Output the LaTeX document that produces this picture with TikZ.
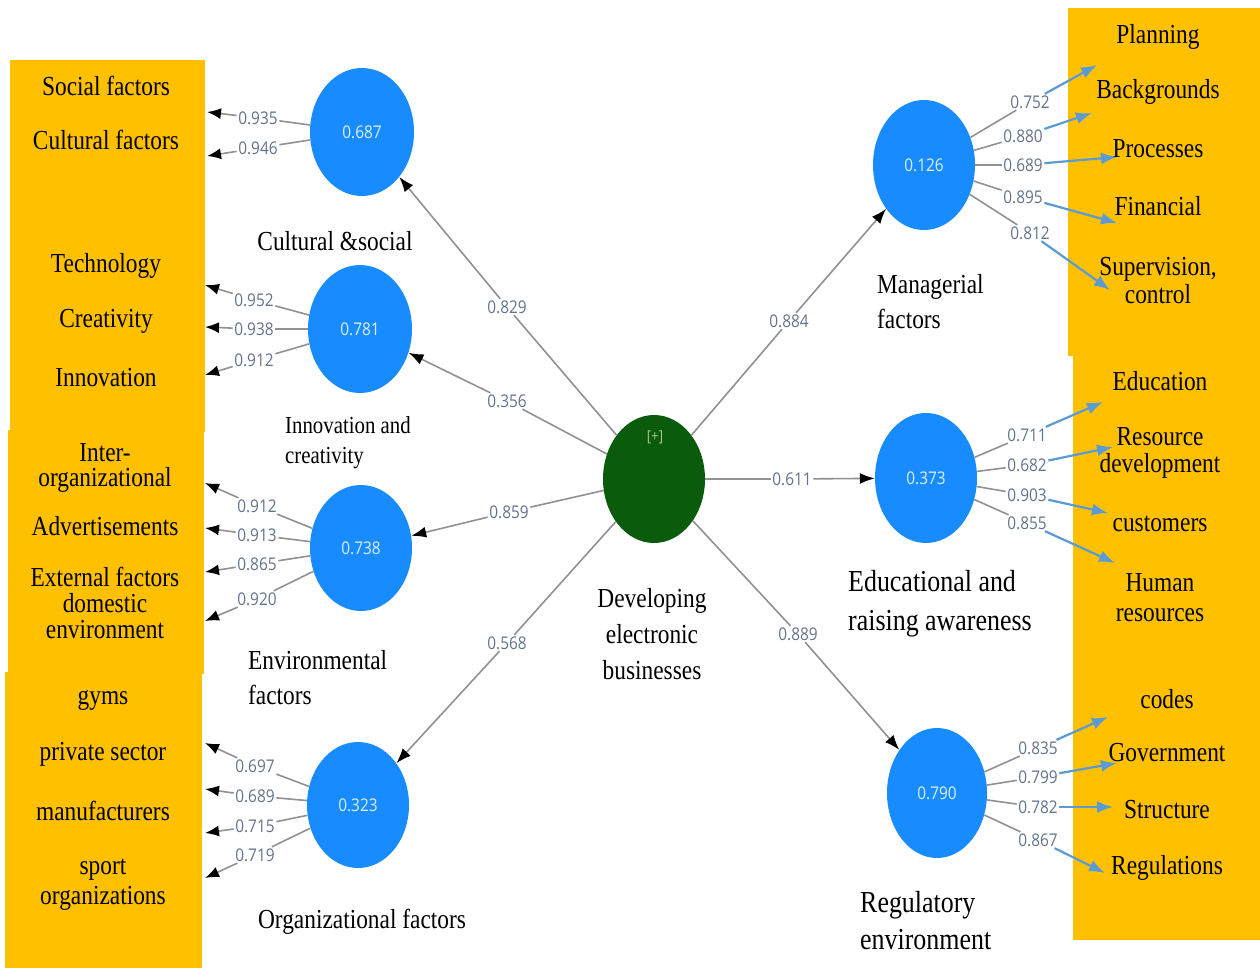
\documentclass[tikz,border=0pt]{standalone}
\usepackage{fontspec}
\setmainfont{Liberation Serif}[FakeStretch=0.85]
\newfontfamily\numfont{Open Sans}[FakeStretch=0.88]
\usetikzlibrary{shapes.geometric,arrows.meta}
\definecolor{gold}{RGB}{255,192,0}
\definecolor{cblue}{RGB}{24,140,255}
\definecolor{cgreen}{RGB}{10,92,12}
\definecolor{lgray}{RGB}{145,145,145}
\definecolor{numc}{RGB}{100,115,140}
\definecolor{arrblue}{RGB}{91,155,213}
\definecolor{plusc}{RGB}{175,195,140}
\tikzset{
  lv/.style={ellipse, fill=cblue, draw=none, inner sep=0pt, minimum width=104pt, minimum height=128pt,
    text=white!85!cblue, font=\numfont\fontsize{17.5}{20}\selectfont},
  num/.style={text=numc, font=\numfont\fontsize{17.5}{20}\selectfont, inner sep=1.5pt},
  ind/.style={font=\fontsize{27.5}{30}\selectfont, align=center, inner sep=0pt},
  cons/.style={font=\fontsize{27.5}{35}\selectfont, inner sep=0pt},
  gline/.style={draw=lgray, line width=1.6pt},
  larr/.style={gline, -{Latex[length=14pt,width=11pt,black]}},
  barr/.style={draw=arrblue, line width=2.2pt, -{Latex[length=16pt,width=12pt]}},
  carr/.style={gline, -{Latex[length=15pt,width=11pt,black]}},
}
\begin{document}
\begin{tikzpicture}[x=1pt,y=-1pt]
\useasboundingbox (0,0) rectangle (1260,968);
\fill[white] (0,0) rectangle (1260,968);
% orange panels
\fill[gold] (10,60) rectangle (205,432);
\fill[gold] (8,430) rectangle (204,674);
\fill[gold] (5,672) rectangle (202,968);
\fill[gold] (1068,8) rectangle (1260,356);
\fill[gold] (1073,352) rectangle (1260,940);

% latent variables
\node[lv] (c1) at (362,132) {0.687};
\node[lv] (c2) at (360,329) {0.781};
\node[lv, minimum width=102pt, minimum height=126pt] (c3) at (361,548) {0.738};
\node[lv, minimum width=102pt, minimum height=126pt] (c4) at (358,805) {0.323};
\node[ellipse, fill=cgreen, inner sep=0pt, minimum width=102pt, minimum height=128pt] (ctr) at (654,479) {};
\node[text=plusc, font=\numfont\fontsize{15}{18}\selectfont] (plus) at (655,437) {[+]};
\node[lv, minimum width=102pt, minimum height=130pt] (mg) at (924,165) {0.126};
\node[lv, minimum width=102pt, minimum height=130pt] (ed) at (926,478) {0.373};
\node[lv, minimum width=100pt, minimum height=130pt] (rg) at (937,793) {0.790};

% construct labels
\node[cons] (tc1) at (335,241) {Cultural \&social};
\node[cons, anchor=west, align=left, font=\fontsize{24.5}{30}\selectfont] (tc2) at (285,443) {Innovation and\\creativity};
\node[cons, anchor=west, align=left] (tc3) at (248,678) {Environmental\\factors};
\node[cons] (tc4) at (362,922) {Organizational factors};
\node[cons, align=center, font=\fontsize{27.5}{36}\selectfont] (tctr) at (652,634) {Developing\\electronic\\businesses};
\node[cons, anchor=west, align=left] (tmg) at (877,302) {Managerial\\factors};
\node[cons, anchor=west, align=left, font=\fontsize{30.5}{39}\selectfont] (ted) at (848,604) {Educational and\\raising awareness};
\node[cons, anchor=west, align=left, font=\fontsize{30.5}{37}\selectfont] (trg) at (860,921) {Regulatory\\environment};

% left indicators
\node[ind] (i1) at (106,86) {Social factors};
\node[ind] (i2) at (106,140) {Cultural factors};
\node[ind] (i3) at (106,266) {Technology};
\node[ind] (i4) at (106,321) {Creativity};
\node[ind] (i5) at (106,378) {Innovation};
\node[ind, font=\fontsize{27.5}{25}\selectfont] (i6) at (105,468) {Inter-\\organizational};
\node[ind] (i7) at (105,526) {Advertisements};
\node[ind, font=\fontsize{27.5}{26}\selectfont] (i8) at (105,603) {External factors\\domestic\\environment};
\node[ind] (i9) at (103,700) {gyms};
\node[ind] (i10) at (103,754) {private sector};
\node[ind] (i11) at (103,811) {manufacturers};
\node[ind] (i12) at (103,885) {sport\\organizations};

% right indicators
\node[ind] (r1) at (1158,37) {Planning};
\node[ind] (r2) at (1158,92) {Backgrounds};
\node[ind] (r3) at (1158,149) {Processes};
\node[ind] (r4) at (1158,206) {Financial};
\node[ind, font=\fontsize{27.5}{28}\selectfont] (r5) at (1158,281) {Supervision,\\control};
\node[ind] (r6) at (1160,381) {Education};
\node[ind, font=\fontsize{27.5}{27}\selectfont] (r7) at (1160,453) {Resource\\development};
\node[ind] (r8) at (1160,524) {customers};
\node[ind, font=\fontsize{27.5}{30}\selectfont] (r9) at (1160,598) {Human\\resources};
\node[ind] (r10) at (1167,699) {codes};
\node[ind] (r11) at (1167,753) {Government};
\node[ind] (r12) at (1167,810) {Structure};
\node[ind] (r13) at (1167,868) {Regulations};

% structural paths
\node[num] (p829) at (507,307) {0.829};
\node[num] (p356) at (507,401) {0.356};
\node[num] (p859) at (509,512) {0.859};
\node[num] (p568) at (507,643) {0.568};
\node[num] (p884) at (789,321) {0.884};
\node[num] (p611) at (792,479) {0.611};
\node[num] (p889) at (798,634) {0.889};
\foreach \p/\t in {p829/c1,p356/c2,p859/c3,p568/c4,p884/mg,p611/ed,p889/rg}{
  \draw[gline] (ctr) -- (\p);
  \draw[carr] (\p) -- (\t);
}

% left outer loadings
\foreach \c/\n/\v/\lx/\ly/\tx/\ty in {
  c1/a1/0.935/258/118/207/112, c1/a2/0.946/258/148/207/156,
  c2/b1/0.952/254/300/205/285, c2/b2/0.938/254/329/205/327, c2/b3/0.912/254/360/205/375,
  c3/d1/0.912/257/506/205/483, c3/d2/0.913/257/535/205/528, c3/d3/0.865/257/564/205/572, c3/d4/0.920/257/599/205/621,
  c4/e1/0.697/255/766/205/743, c4/e2/0.689/255/796/205/789, c4/e3/0.715/255/826/205/833, c4/e4/0.719/255/855/205/878}{
  \node[num] (l\n) at (\lx,\ly) {\v};
  \coordinate (t\n) at (\tx,\ty);
  \draw[gline] (\c) -- (l\n);
  \draw[larr] (l\n) -- (t\n);
}

% right outer loadings
\foreach \c/\n/\v/\lx/\ly/\tx/\ty in {
  mg/f1/0.752/1030/102/1097/65, mg/f2/0.880/1023/136/1092/113, mg/f3/0.689/1023/165/1117/157,
  mg/f4/0.895/1023/197/1117/223, mg/f5/0.812/1030/233/1110/290,
  ed/g1/0.711/1027/435/1103/402, ed/g2/0.682/1027/465/1113/447, ed/g3/0.903/1027/495/1108/513, ed/g4/0.855/1027/523/1115/563,
  rg/h1/0.835/1038/748/1108/717, rg/h2/0.799/1038/777/1117/763, rg/h3/0.782/1038/807/1113/807, rg/h4/0.867/1038/840/1105/873}{
  \node[num] (l\n) at (\lx,\ly) {\v};
  \coordinate (t\n) at (\tx,\ty);
  \draw[gline] (\c) -- (l\n);
  \draw[barr] (l\n) -- (t\n);
}
\end{tikzpicture}
\end{document}
